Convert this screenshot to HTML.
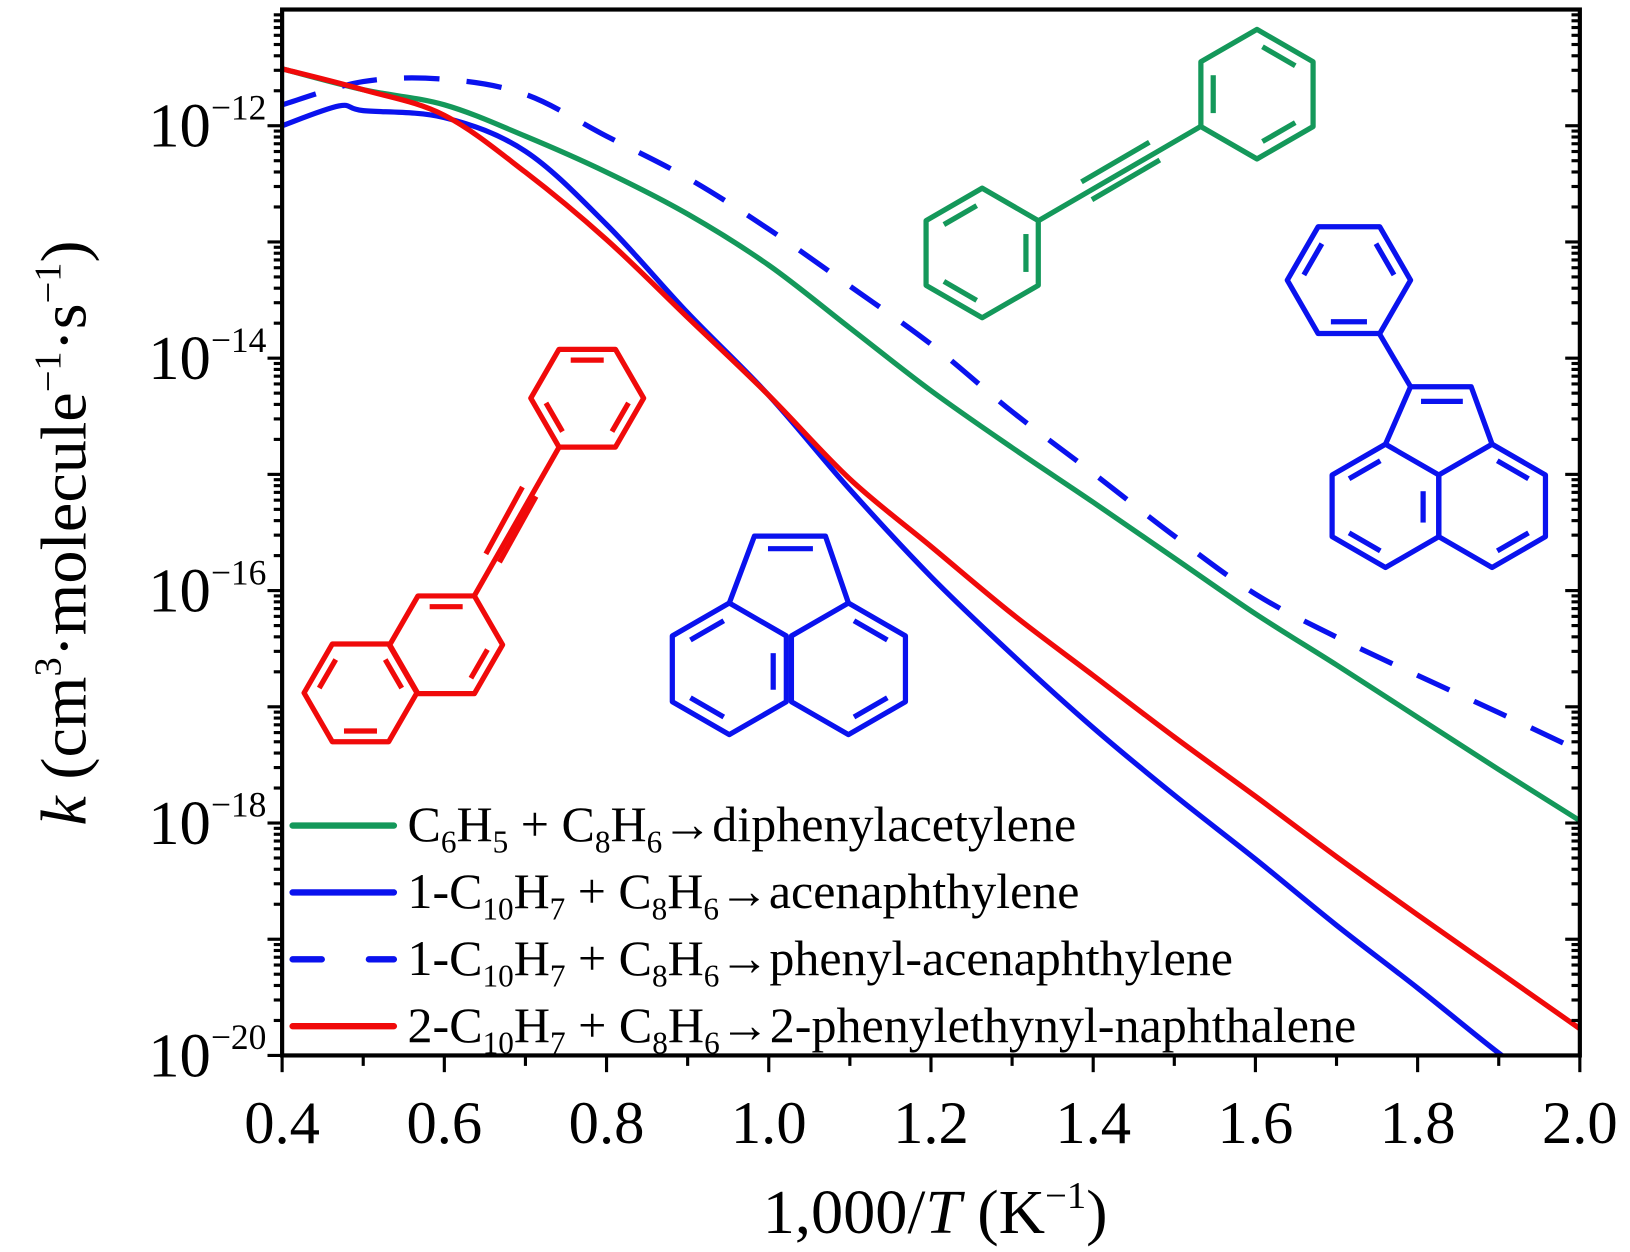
<!DOCTYPE html>
<html><head><meta charset="utf-8"><style>
html,body{margin:0;padding:0;background:#fff;}
svg{display:block;font-family:"Liberation Serif",serif;}
</style></head><body>
<svg id="chart" width="1630" height="1252" viewBox="0 0 1560 1198" xmlns="http://www.w3.org/2000/svg">
<defs><clipPath id="clip"><rect x="270" y="9" width="1242" height="1001"/></clipPath></defs>
<g id="mols" fill="none" stroke-width="5" stroke-linejoin="round"></g>
<g id="series" clip-path="url(#clip)"></g>
<rect x="270" y="9" width="1242" height="1001" fill="none" stroke="#000" stroke-width="4"/>
<g id="axes"></g>
<g id="legend"></g>
<text x="895" y="1180" font-size="60" text-anchor="middle" textLength="330" lengthAdjust="spacingAndGlyphs">1,000/<tspan font-style="italic">T</tspan> (K<tspan font-size="36" dy="-24">−1</tspan><tspan dy="24">)</tspan></text>
<text transform="translate(82,510) rotate(-90)" font-size="62" text-anchor="middle" textLength="560" lengthAdjust="spacingAndGlyphs"><tspan font-style="italic">k</tspan> (cm<tspan font-size="36" dy="-24">3</tspan><tspan dy="24">·molecule</tspan><tspan font-size="36" dy="-24">−1</tspan><tspan dy="24">·s</tspan><tspan font-size="36" dy="-24">−1</tspan><tspan dy="24">)</tspan></text>
</svg>
<script>
const xs = [0.4,0.5,0.6,0.7,0.8,0.9,1.0,1.1,1.2,1.3,1.4,1.5,1.6,1.7,1.8,1.9,2.0];
const greenLogK = [-11.51,-11.69,-11.82,-12.09,-12.4,-12.76,-13.2,-13.74,-14.28,-14.77,-15.24,-15.72,-16.2,-16.64,-17.09,-17.54,-17.98];
const dashedLogK = [-11.82,-11.62,-11.6,-11.73,-12.09,-12.45,-12.89,-13.38,-13.88,-14.46,-14.99,-15.53,-16.03,-16.4,-16.73,-17.05,-17.38];
const blueX = [0.4,0.47,0.5,0.6,0.7,0.8,0.9,1.0,1.1,1.2,1.3,1.4,1.5,1.6,1.7,1.8,1.9,2.0];
const blueLogK = [-12.0,-11.83,-11.87,-11.93,-12.22,-12.85,-13.61,-14.32,-15.13,-15.88,-16.55,-17.18,-17.76,-18.31,-18.88,-19.42,-19.98,-20.5];
const redLogK = [-11.51,-11.69,-11.91,-12.4,-12.98,-13.65,-14.32,-15.04,-15.62,-16.2,-16.73,-17.26,-17.77,-18.29,-18.79,-19.28,-19.77];
const xTicks = [0.4,0.6,0.8,1.0,1.2,1.4,1.6,1.8,2.0];
const xTickLabels = ["0.4","0.6","0.8","1.0","1.2","1.4","1.6","1.8","2.0"];
const yTicks = [-12,-14,-16,-18,-20];

const NS="http://www.w3.org/2000/svg";
const L=270,R=1512,T=9,B=1010;
const X=v=>L+(v-0.4)/1.6*(R-L);
const Y=e=>B-(e+20)/9*(B-T);
function mk(tag,attrs,parent){const e=document.createElementNS(NS,tag);for(const k in attrs)e.setAttribute(k,attrs[k]);parent.appendChild(e);return e;}
const axes=document.getElementById('axes');
for(let d=-20; d<-11; d++){
  for(let m=1;m<10;m++){
    const e=d+Math.log10(m); if(e>-11)break;
    const y=Y(e), len=m===1?14:8;
    const t=mk('line',{x1:L-len,x2:L,y1:y,y2:y,stroke:'#000','stroke-width':3},axes);
    
    
    const t2=mk('line',{x1:R,x2:R-len,y1:y,y2:y,stroke:'#000','stroke-width':3},axes);
    
    
  }
}
yTicks.forEach(e=>{
  const t=mk('text',{x:255,y:Y(e)+20,'font-size':60,'text-anchor':'end'},axes);
  
  
  t.innerHTML='10<tspan font-size="34" dy="-26">−'+(-e)+'</tspan>';
});
for(let v=0.4; v<=2.001; v+=0.1){
  const major=Math.abs(Math.round(v*10)%2)===0;
  const t=mk('line',{x1:X(v),x2:X(v),y1:B,y2:B+(major?16:10),stroke:'#000','stroke-width':3},axes);
  
  
}
xTicks.forEach((v,i)=>{
  const t=mk('text',{x:X(v),y:1094,'font-size':58,'text-anchor':'middle'},axes);
  
  
  t.textContent=xTickLabels[i];
});
function pathFor(xv,yv){
  const p=xv.map((x,i)=>[X(x),Y(yv[i])]);
  let d='M'+p[0][0]+','+p[0][1];
  for(let i=0;i<p.length-1;i++){
    const p0=p[i-1]||p[i],p1=p[i],p2=p[i+1],p3=p[i+2]||p2;
    const c1=[p1[0]+(p2[0]-p0[0])/6,p1[1]+(p2[1]-p0[1])/6];
    const c2=[p2[0]-(p3[0]-p1[0])/6,p2[1]-(p3[1]-p1[1])/6];
    d+=' C'+c1+' '+c2+' '+p2;
  }
  return d;
}
const S=document.getElementById('series');
const g1=mk('path',{d:pathFor(xs,greenLogK),fill:'none',stroke:'#14985a','stroke-width':5},S);


const g2=mk('path',{d:pathFor(xs,dashedLogK),fill:'none',stroke:'#0a12ee','stroke-width':5,'stroke-dasharray':'34 26'},S);


const g3=mk('path',{d:pathFor(blueX,blueLogK),fill:'none',stroke:'#0a12ee','stroke-width':5},S);


const g4=mk('path',{d:pathFor(xs,redLogK),fill:'none',stroke:'#f00a0a','stroke-width':5},S);



const Lg=document.getElementById('legend');
const sub=(s)=>"<tspan font-size='30' dy='11'>"+s+"</tspan><tspan dy='-11'>";
const legItems=[
 ['#14985a','',"C"+sub(6)+"H</tspan>"+sub(5)+" + C</tspan>"+sub(8)+"H</tspan>"+sub(6)+"→diphenylacetylene</tspan>",640],
 ['#0a12ee','',"1-C"+sub(10)+"H</tspan>"+sub(7)+" + C</tspan>"+sub(8)+"H</tspan>"+sub(6)+"→acenaphthylene</tspan>",643],
 ['#0a12ee','28 45',"1-C"+sub(10)+"H</tspan>"+sub(7)+" + C</tspan>"+sub(8)+"H</tspan>"+sub(6)+"→phenyl-acenaphthylene</tspan>",790],
 ['#f00a0a','',"2-C"+sub(10)+"H</tspan>"+sub(7)+" + C</tspan>"+sub(8)+"H</tspan>"+sub(6)+"→2-phenylethynyl-naphthalene</tspan>",908]
];
legItems.forEach((it,i)=>{
  const y=790+i*64;
  const ln=mk('line',{x1:280,x2:377,y1:y,y2:y,stroke:it[0],'stroke-width':6,'stroke-linecap':'round'},Lg);
  if(it[1])ln.setAttribute('stroke-dasharray',it[1]);
  
  
  const t=mk('text',{x:390,y:y+15,'font-size':48,textLength:it[3],lengthAdjust:'spacingAndGlyphs'},Lg);
  
  
  t.innerHTML=it[2];
});

const M=document.getElementById('mols');
function hex(cx,cy,r,flat,col,inner){
  const v=[];for(let k=0;k<6;k++){const a=(flat?0:30)*Math.PI/180+k*Math.PI/3;v.push([cx+r*Math.cos(a),cy+r*Math.sin(a)]);}
  const p=mk('polygon',{points:v.map(q=>q.join(',')).join(' '),stroke:col},M);
  
  
  inner.forEach(k=>{
    const a=v[k],b=v[(k+1)%6];const s=0.78;
    const f=q=>[cx+(q[0]-cx)*s,cy+(q[1]-cy)*s];
    const A=f(a),Bq=f(b);const mx=(A[0]+Bq[0])/2,my=(A[1]+Bq[1])/2;
    const sh=0.75;
    mk('line',{x1:mx+(A[0]-mx)*sh,y1:my+(A[1]-my)*sh,x2:mx+(Bq[0]-mx)*sh,y2:my+(Bq[1]-my)*sh,stroke:col},M);
  });
}
function ln(a,b,c,d,col){mk('line',{x1:a,y1:b,x2:c,y2:d,stroke:col},M);}
const G='#14985a';
hex(940,242,62,false,G,[1,3,5]);
hex(1203,90,62,false,G,[0,2,4]);
ln(994,211,1149,121,G);
ln(1045,191,1110,153,G);ln(1035,174,1100,136,G);
const Rr='#f00a0a';
hex(562,381,54,true,Rr,[0,2,4]);
hex(427,617,54,true,Rr,[0,4]);
hex(345,663,54,true,Rr,[1,3,5]);
ln(535,428,454,570,Rr);
ln(513,475,478,538,Rr);ln(500,466,465,530,Rr);
const Bl='#0a12ee';
hex(698,640,63,false,Bl,[1,3]);
hex(812,640,63,false,Bl,[0,4]);
ln(740,625,740,660,Bl);
mk('polyline',{points:'698,577 722,513 790,513 812,577',stroke:Bl},M);
ln(735,525,778,525,Bl);
hex(1326,484,59,false,Bl,[1,3]);
hex(1428,484,59,false,Bl,[0,4]);
ln(1362,470,1362,500,Bl);
mk('polyline',{points:'1326,425 1350,370 1408,370 1428,425',stroke:Bl},M);
ln(1360,384,1400,384,Bl);
hex(1291,268,59,true,Bl,[1,3,5]);
ln(1320,319,1350,370,Bl);
</script>
</body></html>
